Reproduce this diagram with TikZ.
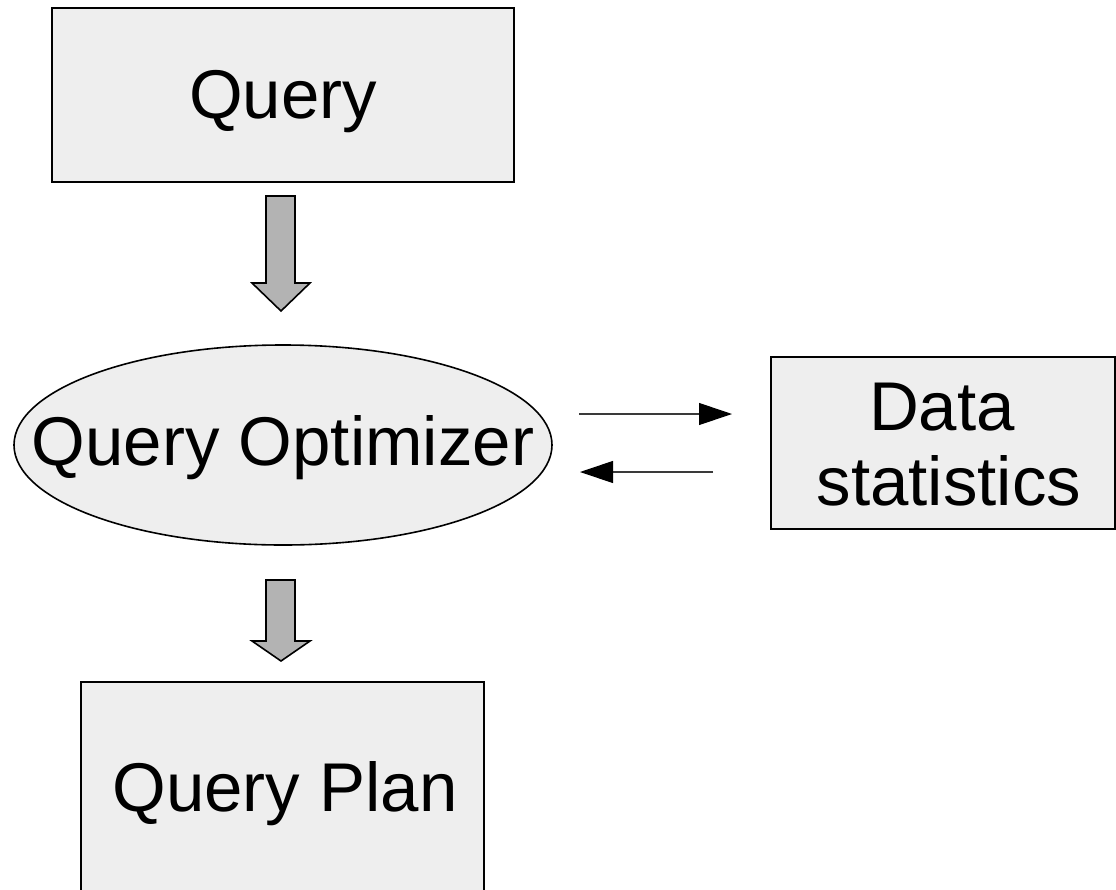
\documentclass[tikz,border=0pt]{standalone}
\usepackage{fontspec}
\setmainfont{Liberation Sans}
\usetikzlibrary{arrows.meta,shapes.geometric}
\definecolor{boxfill}{HTML}{EEEEEE}
\definecolor{blockfill}{HTML}{B3B3B3}
\definecolor{linegray}{HTML}{3A3A3A}
\begin{document}
\begin{tikzpicture}[x=1pt,y=-1pt,
  bigtext/.style={font=\fontsize{69}{75}\selectfont, inner sep=0pt, anchor=base},
  boxnode/.style={draw=black, line width=1.6pt, fill=boxfill, inner sep=0pt},
  blockarrow/.style={draw=black, line width=1.6pt, fill=blockfill, line join=miter},
  thinarrow/.style={draw=linegray, line width=1.1pt, -{Triangle[length=33pt,width=22pt,color=black]}}
]
\useasboundingbox (0,0) rectangle (1116,889);

% Shapes
\node[boxnode, minimum width=462pt, minimum height=174pt] (query) at (283,95) {};
\node[boxnode, ellipse, minimum width=538pt, minimum height=200pt] (opt) at (283,445) {};
\node[boxnode, minimum width=344pt, minimum height=172pt] (stats) at (943,443) {};
\node[boxnode, minimum width=403pt, minimum height=210pt, anchor=north] (plan) at (282.5,681) {};

% Labels
\node[bigtext] (querylabel) at (283,118) {Query};
\node[bigtext] (optlabel) at (283,465) {Query Optimizer};
\node[bigtext] (statslabelA) at (942,430) {Data};
\node[bigtext] (statslabelB) at (949,505) {statistics};
\node[bigtext] (planlabel) at (285,811) {Query Plan};

% Block arrows
\coordinate (b1) at (281,196);
\draw[blockarrow] (b1) ++(-15,0) -- ++(29,0) -- ++(0,87) -- ++(15,0) -- (281,311) -- (252,283) -- ++(14,0) -- cycle;
\coordinate (b2) at (281,580);
\draw[blockarrow] (b2) ++(-15,0) -- ++(29,0) -- ++(0,61) -- ++(15,0) -- (281,661) -- (252,641) -- ++(14,0) -- cycle;

% Thin arrows between optimizer and statistics
\coordinate (a1s) at (579,414);
\coordinate (a1e) at (732,414);
\coordinate (a2s) at (713,472);
\coordinate (a2e) at (580,472);
\draw[thinarrow] (a1s) -- (a1e);
\draw[thinarrow] (a2s) -- (a2e);
\end{tikzpicture}
\end{document}
